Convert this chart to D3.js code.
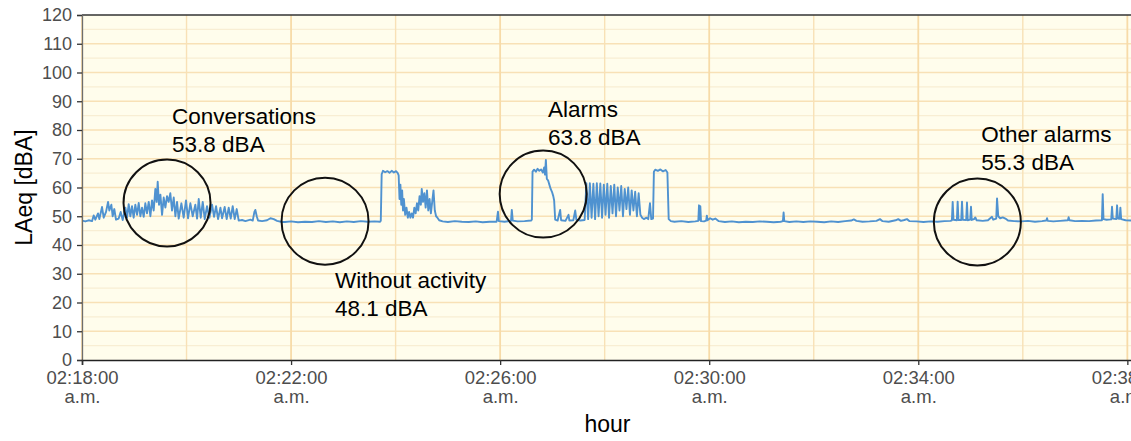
<!DOCTYPE html>
<html>
<head>
<meta charset="utf-8">
<script src="https://cdn.jsdelivr.net/npm/d3@7"></script>
<style>
  body { margin: 0; background: #ffffff; }
  svg { display: block; font-family: "Liberation Sans", Arial, sans-serif; }
</style>
</head>
<body>
<svg id="chart" width="1131" height="441"></svg>
<script>
// LAeq readings, [seconds after 02:18:00, dBA]
var conversations = [
    [0,48.5],[3.8,48.2],[7.7,48.6],[11.5,48.3],[13.4,50.3],[15.3,48.8],[18.4,51],[19.9,49],
    [23,53.2],[24.9,49.5],[27.6,51.5],[29.9,55],[31.4,52],[33.7,54],[35.2,50],[37.1,52.5],
    [39,48.8],[42.1,49.2],[44.4,51.5],[46.7,48.7],[49.8,53],[51.7,49.5],[53.6,54.2],[55.5,50],
    [57.4,53.5],[59.3,49.5],[61.2,54],[63.2,50.5],[65.1,54.6],[67,50],[68.9,53],[70.8,49.8],
    [72.7,54.5],[74.6,51],[76.6,55],[78.5,50],[80.4,55.5],[82.3,52],[84.2,59.5],[85.7,55],
    [86.9,62],[88.4,54],[90,57.5],[91.9,50.5],[93.8,56.5],[95.7,53],[97.6,57],[99.5,55],
    [101.4,58],[103.3,52],[105.3,56.5],[107.2,50],[109.1,55],[111,49.2],[114.1,54.5],[116.7,49.5],
    [119.4,55.5],[121.7,49.3],[124.4,54.5],[127.1,50],[130.1,54],[132.1,49.2],[134,56],[136.3,49.5],
    [138.6,55],[140.9,49],[143.5,53.5],[146.2,49.5],[149.3,54],[151.6,49.8],[153.9,53.5],[156.2,49],
    [158.9,53],[160.8,49.3],[163.8,53.2],[166.1,49],[168.4,53],[170.7,49.2],[173,53.5],[175.3,49],
    [177.6,52.5],[179.9,48.5],[183.7,48.7],[187.6,48.3],[193.3,48.8],[196,48.5],[197.9,51.5],[199,52.2],
    [200.6,50],[202.1,48.5],[206.7,48.3],[212.4,48.6],[216.3,49.3],[220.1,49],[223.9,48.4],[229.7,48]
];
var quiet1 = [
    [233,48],[240,48.2],[248,47.9],[256,48.1],[264,48],[272,48.3],[280,48],[288,48.2],
    [296,47.9],[304,48.2],[312,48],[320,48.3],[328,48.1],[336,48.2],[342,48.1]
];
var burst1 = [
    [343,48.4],[344,64.6],[345.5,65.8],[348,65.3],[350.5,65.7],[353,65.1],[355.5,65.8],[358,65.2],
    [360.5,65.7],[362.5,65],[363.5,64.2],[364.5,56],[365.5,61],[366.5,54],[367.5,59],[368.5,52],
    [369.5,56],[371,50.5],[372.5,53],[374,49.5],[375.5,51.5],[377,49.5],[378.5,51],[380,49.5],
    [381.5,53],[383,51],[384.5,54.5],[386,52],[387.5,57],[389,54],[390,59.5],[391.5,55],
    [393,58],[394.5,53],[396,59],[397.5,52],[399,56],[400.5,51],[402,55],[403.5,59],
    [405,52],[406.5,50],[408,49.5],[410,48.6],[414,48.2]
];
var quiet2 = [
    [420,48],[428,48.3],[436,48.1],[444,48],[452,48.2],[460,47.9],[468,48.1],[476,48.1],
    [477.5,51.6],[478.5,48.3],[485,48.1],[492.5,48.4],[493.4,52.2],[494.5,48.5],[500,48.2],[508,48.3],
    [515.5,48.5]
];
var alarms = [
    [516.4,48.8],[517.2,65.5],[519,66.2],[521,65.5],[523,66.5],[525,65.8],[527,66.3],[529,65.2],
    [530.5,67],[531.5,64.5],[532.5,69.6],[533.6,63],[535,62.5],[536.5,61],[538,59.5],[539.5,58.5],
    [541,57],[542,55.5],[543.2,48.8],[546,48.5],[548.9,52.2],[550,48.6],[555,48.4],[558.5,50.5],
    [559.5,48.5],[564,48.6],[566.2,52],[567.5,48.8],[572,48.5],[577,48.7]
];
var burst2 = [
    [579,61.5],[581,49],[583,61.5],[585,49.5],[587,61.3],[589,49],[591,61.5],[593,50],
    [595,61.4],[597,49.5],[599,61],[601,50.5],[603,61.3],[605,49.5],[607,60.5],[609,51],
    [611,61],[613,50],[615,60],[617,52],[619,60.5],[621,50],[623,59.5],[625,52.5],
    [627,60],[629,50.5],[631,59],[633,52],[635,58.5],[637,50],[639,58],[641,50.5],
    [643,49.5],[645,49],[648,49.5],[650,49],[652,54.5],[653.5,49],[655.5,49.2],[656.5,65.5],
    [658,66.2],[661,65.8],[664,66.3],[667,65.6],[670,66.1],[672,65.2],[673.5,49],[676,48.3]
];
var quiet3 = [
    [680,48.1],[688,48.3],[696,48],[704,48.2],[707.5,48.4],[708.3,53.8],[709,48.8],[709.8,53.5],
    [710.6,48.3],[714,48.2],[716.5,48.5],[717.3,50.2],[718,48.6],[721,49.3],[724,48.8],[727,49.2],
    [731,48.3],[738,48],[746,48.2],[754,47.9],[762,48.1],[770,48],[778,48.2],[786,48.1],
    [794,47.9],[802,48.1],[804.6,48.3],[805.4,51.3],[806.2,48.3],[812,48],[820,48.2],[828,48],
    [836,48.2],[844,48.1],[852,47.9],[860,48.2],[868,48],[876,48.3],[883,48.5],[886,48.9],
    [889,48.4],[896,48.1],[904,48.2],[912,48.4],[916,49],[919,48.3],[926,48.1],[934,48.6],
    [937,49],[940,48.4],[944,48.7],[947,49],[950,48.3],[958,48.2],[966,48],[974,48.2],
    [982,48.1],[990,48.3],[997,48.4]
];
var otherAlarms = [
    [998.6,48.6],[999.5,55],[1000.4,48.8],[1004.3,48.6],[1005.2,55.1],[1006.1,48.7],[1009.3,48.7],[1010.2,55.1],
    [1011.1,48.8],[1015,48.7],[1015.9,54.8],[1016.8,48.6],[1019.6,48.8],[1020.5,53.3],[1021.4,48.7],[1024,49],
    [1025.5,49.6],[1027,48.6],[1034,48.4],[1040,48.6],[1044.6,49.8],[1046,48.8],[1049.5,49.2],[1050.4,56.2],
    [1051.8,50],[1054,49.3],[1057,49.6],[1060,49.2],[1063,48.5],[1070,48.3],[1078,48.2],[1086,48.4],
    [1094,48.1],[1102,48.3],[1107,48.5],[1107.8,49.3],[1108.6,48.4],[1115,48.2],[1123,48.4],[1131.7,48.6],
    [1132.6,49.7],[1133.5,48.6],[1140,48.3],[1148,48.4],[1156,48.3],[1164,48.5],[1170.8,48.6],[1171.7,57.7],
    [1172.6,49],[1176,48.8],[1181.5,48.9],[1182.4,53.3],[1183.3,49.2],[1187.3,49],[1188.2,53.8],[1189.1,49.2],
    [1191.1,49.1],[1192,53],[1192.9,49],[1198,48.6],[1206,48.5],[1214,48.4],[1222,48.5]
];

// axis ticks
var yTicks = [0, 10, 20, 30, 40, 50, 60, 70, 80, 90, 100, 110, 120];
var yMinor = [5, 15, 25, 35, 45, 55, 65, 75, 85, 95, 105, 115];
var xTickMinutes = [0, 4, 8, 12, 16, 20];
var xMinorMinutes = [2, 6, 10, 14, 18];

// annotations: circle centre [s, dBA], label anchor [s, dBA]
var noteNames = ["Conversations", "Without activity", "Alarms", "Other alarms"];
var noteValues = ["53.8 dBA", "48.1 dBA", "63.8 dBA", "55.3 dBA"];
var noteCircles = [[97.6, 54.6], [279, 48.3], [529.4, 57.7], [1027.8, 48]];
var noteLabels = [[103.4, 82.1], [290.5, 25], [535, 84.5], [1032.4, 75.8]];

var start = new Date(2021, 0, 1, 2, 18, 0);
var toTime = s => d3.timeMillisecond.offset(start, Math.round(s * 1000));

var data = [].concat(conversations, quiet1, burst1, quiet2, alarms, burst2, quiet3, otherAlarms)
    .map(d => ({time: toTime(d[0]), level: d[1]}));

var svg = d3.select("#chart");
var plotL = 82, plotR = 1150, plotT = 15, plotB = 360;

var xScale = d3.scaleTime().domain([start, toTime(1226)]).range([plotL, plotR]);
var yScale = d3.scaleLinear().domain([0, 120]).range([plotB, plotT]);

// panel
svg.append("rect")
    .attr("x", plotL).attr("y", plotT)
    .attr("width", plotR - plotL).attr("height", plotB - plotT)
    .attr("fill", "#fffdec");

// grid
svg.append("g").selectAll("line")
    .data(yMinor).join("line")
    .attr("x1", plotL).attr("x2", plotR)
    .attr("y1", d => yScale(d)).attr("y2", d => yScale(d))
    .attr("stroke", "#f8eed3").attr("stroke-width", 1.2);
svg.append("g").selectAll("line")
    .data(yTicks.slice(1, -1)).join("line")
    .attr("x1", plotL).attr("x2", plotR)
    .attr("y1", d => yScale(d)).attr("y2", d => yScale(d))
    .attr("stroke", "#f8e1b6").attr("stroke-width", 1.6);
svg.append("g").selectAll("line")
    .data(xMinorMinutes).join("line")
    .attr("x1", d => xScale(toTime(d * 60))).attr("x2", d => xScale(toTime(d * 60)))
    .attr("y1", plotT).attr("y2", plotB)
    .attr("stroke", "#f8e1b6").attr("stroke-width", 1.4);
svg.append("g").selectAll("line")
    .data(xTickMinutes).join("line")
    .attr("x1", d => xScale(toTime(d * 60))).attr("x2", d => xScale(toTime(d * 60)))
    .attr("y1", plotT).attr("y2", plotB)
    .attr("stroke", "#f7dba8").attr("stroke-width", 1.8);

// signal
svg.append("clipPath").attr("id", "plotClip")
    .append("rect")
    .attr("x", plotL).attr("y", plotT)
    .attr("width", plotR - plotL).attr("height", plotB - plotT);

var line = d3.line()
    .x(d => xScale(d.time))
    .y(d => yScale(d.level));

svg.append("path")
    .datum(data)
    .attr("clip-path", "url(#plotClip)")
    .attr("fill", "none")
    .attr("stroke", "#4f92d0")
    .attr("stroke-width", 1.9)
    .attr("stroke-linejoin", "round")
    .attr("d", line);

// top border
svg.append("line")
    .attr("x1", plotL).attr("x2", plotR)
    .attr("y1", plotT).attr("y2", plotT)
    .attr("stroke", "#333333").attr("stroke-width", 1.5);

// y axis
var yAxis = svg.append("g")
    .attr("transform", "translate(" + plotL + ",0)")
    .call(d3.axisLeft(yScale).tickValues(yTicks).tickSize(5).tickPadding(5));
yAxis.select(".domain").attr("stroke", "#6e6e6e").attr("stroke-width", 1.3);
yAxis.selectAll(".tick line").attr("stroke", "#333333").attr("stroke-width", 1.3);
yAxis.selectAll(".tick text")
    .attr("fill", "#4d4d4d")
    .style("font-size", "18px");

// x axis
var fmt = d3.timeFormat("%I:%M:%S");
var xAxis = svg.append("g")
    .attr("transform", "translate(0," + plotB + ")")
    .call(d3.axisBottom(xScale)
        .tickValues(xTickMinutes.map(m => toTime(m * 60)))
        .tickSize(5)
        .tickFormat(""));
xAxis.select(".domain").attr("stroke", "#222222").attr("stroke-width", 1.5);
xAxis.selectAll(".tick line").attr("stroke", "#333333").attr("stroke-width", 1.3);
xAxis.selectAll(".tick text").each(function (d) {
    var t = d3.select(this).attr("y", null).attr("dy", null)
        .attr("fill", "#4d4d4d").style("font-size", "18.5px");
    t.append("tspan").attr("x", 0).attr("y", 24).text(fmt(d));
    t.append("tspan").attr("x", 0).attr("y", 43).text("a.m.");
});

// axis titles
svg.append("text")
    .attr("transform", "translate(32," + ((plotT + plotB) / 2) + ") rotate(-90)")
    .attr("text-anchor", "middle")
    .style("font-size", "23px")
    .attr("fill", "#000000")
    .text("LAeq [dBA]");

svg.append("text")
    .attr("x", (plotL + 1131) / 2 + 1)
    .attr("y", 432)
    .attr("text-anchor", "middle")
    .style("font-size", "23px")
    .attr("fill", "#000000")
    .text("hour");

// annotations
svg.append("g").selectAll("circle")
    .data(noteCircles).join("circle")
    .attr("cx", d => xScale(toTime(d[0])))
    .attr("cy", d => yScale(d[1]))
    .attr("r", 43.5)
    .attr("fill", "none")
    .attr("stroke", "#111111")
    .attr("stroke-width", 2);

var notes = svg.append("g").selectAll("text")
    .data(noteLabels).join("text")
    .attr("x", d => xScale(toTime(d[0])))
    .attr("y", d => yScale(d[1]))
    .style("font-size", "22.5px")
    .attr("fill", "#000000");
notes.append("tspan").text((d, i) => noteNames[i]);
notes.append("tspan")
    .attr("x", d => xScale(toTime(d[0])))
    .attr("dy", 28)
    .text((d, i) => noteValues[i]);
</script>
</body>
</html>
